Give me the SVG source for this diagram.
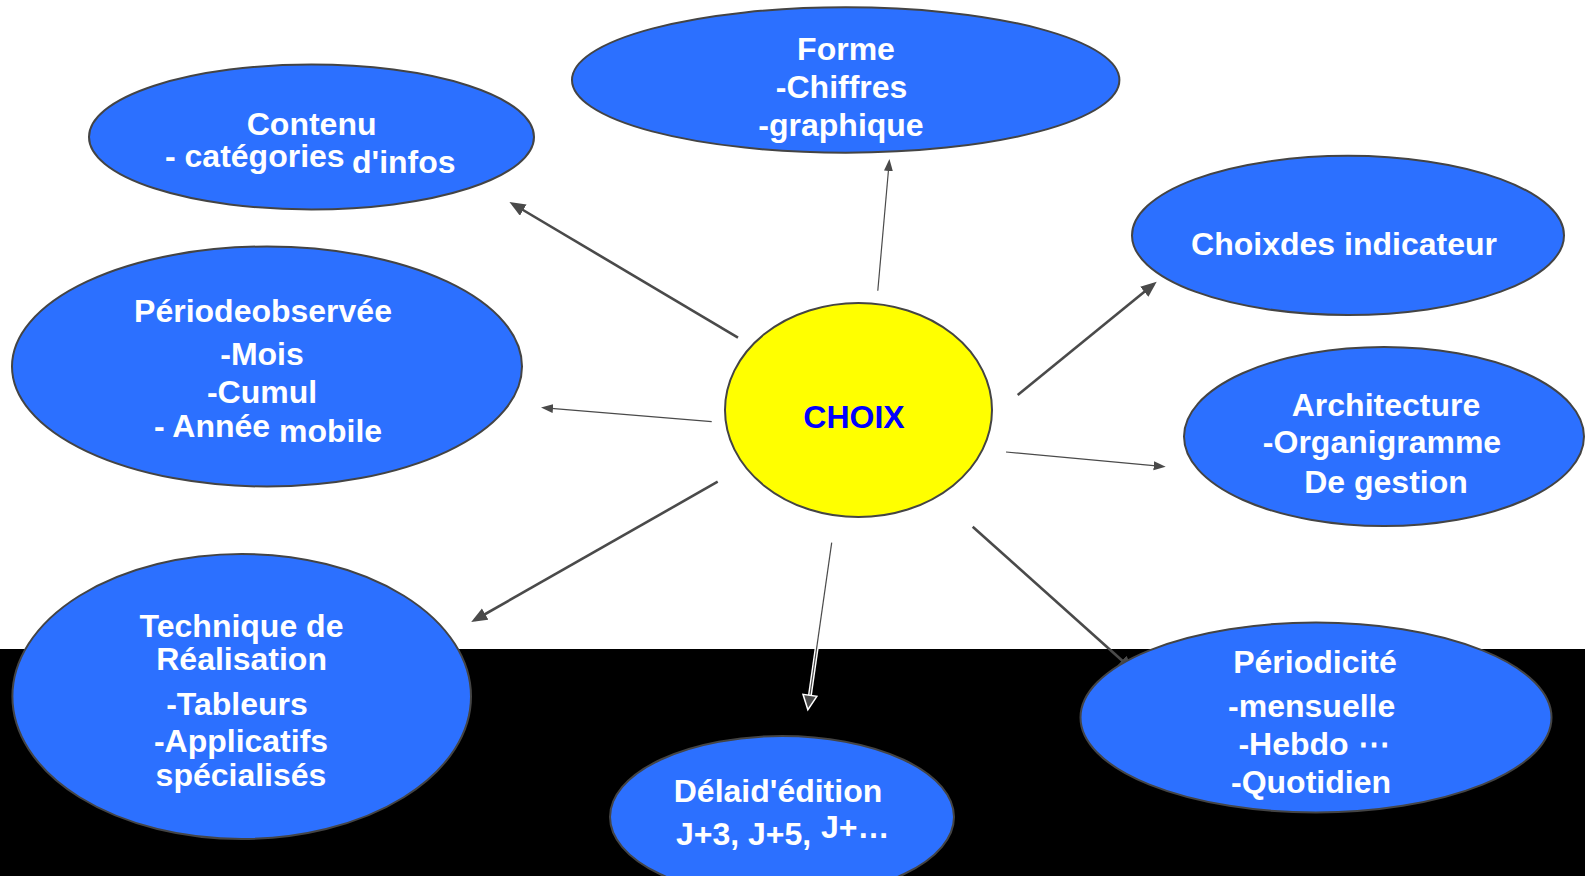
<svg xmlns="http://www.w3.org/2000/svg" width="1585" height="876" viewBox="0 0 1585 876">
<style>
.node{fill:#2c70ff;stroke:#444;stroke-width:2}
.t{font-family:"Liberation Sans",Arial,sans-serif;font-weight:bold;font-size:32px;fill:#fff}
.m{text-anchor:middle}
.thick{stroke:#4a4a4a;stroke-width:2.6;fill:none}
.thin{stroke:#4a4a4a;stroke-width:1.2;fill:none}
</style>
<defs>
<marker id="ak" markerUnits="userSpaceOnUse" markerWidth="18" markerHeight="14" refX="12" refY="6.5" orient="auto"><path d="M0,0 L16,6.5 L0,13 z" fill="#4a4a4a"/></marker>
<marker id="an" markerUnits="userSpaceOnUse" markerWidth="14" markerHeight="11" refX="8" refY="4.5" orient="auto"><path d="M0,0 L12,4.5 L0,9 z" fill="#4a4a4a"/></marker>
<marker id="aw" markerUnits="userSpaceOnUse" markerWidth="22" markerHeight="20" refX="13" refY="8.5" orient="auto"><path d="M1.5,1.5 L16,8.5 L1.5,15.5 z" fill="#4a4a4a" stroke="#fff" stroke-width="1.5"/></marker>
</defs>
<rect x="0" y="0" width="1585" height="876" fill="#fff"/>
<rect x="0" y="649" width="1585" height="227" fill="#000"/>
<g id="connectors">
<line class="thick" x1="738" y1="337.6" x2="512.9" y2="204" marker-end="url(#ak)"/>
<line class="thin" x1="877.8" y1="290.7" x2="889.1" y2="163" marker-end="url(#an)"/>
<line class="thick" x1="1017.7" y1="395" x2="1153.6" y2="284.2" marker-end="url(#ak)"/>
<line class="thin" x1="711.7" y1="421.7" x2="545" y2="407.9" marker-end="url(#an)"/>
<line class="thin" x1="1006" y1="452" x2="1161.7" y2="466.4" marker-end="url(#an)"/>
<line class="thick" x1="717.7" y1="481.7" x2="474.7" y2="620" marker-end="url(#ak)"/>
<line stroke="#fff" stroke-width="4" x1="831.7" y1="542.7" x2="808.3" y2="706.7"/>
<line class="thin" x1="831.7" y1="542.7" x2="808.3" y2="706.7" marker-end="url(#aw)"/>
<line class="thick" x1="972.7" y1="526.7" x2="1131" y2="668.5" marker-end="url(#ak)"/>
</g>
<g id="contenu">
<ellipse class="node" cx="311.5" cy="137" rx="222.5" ry="72.5"/>
<text class="t m" x="311.6" y="135">Contenu</text>
<text class="t" x="165" y="166.7">- catégories</text>
<text class="t" x="352" y="173.3">d'infos</text>
</g>
<g id="forme">
<ellipse class="node" cx="845.7" cy="80" rx="273.7" ry="72.7"/>
<text class="t m" x="846" y="60">Forme</text>
<text class="t m" x="841.6" y="97.5">-Chiffres</text>
<text class="t m" x="841" y="136">-graphique</text>
</g>
<g id="indicateur">
<ellipse class="node" cx="1348" cy="235.4" rx="216" ry="79.6"/>
<text class="t m" x="1344" y="254.5">Choixdes indicateur</text>
</g>
<g id="periode">
<ellipse class="node" cx="267" cy="366.5" rx="255" ry="120"/>
<text class="t m" x="263" y="321.7">Périodeobservée</text>
<text class="t m" x="262" y="365">-Mois</text>
<text class="t m" x="262" y="403">-Cumul</text>
<text class="t" x="154" y="436.7">- Année</text>
<text class="t" x="279" y="441.7">mobile</text>
</g>
<g id="choix">
<ellipse cx="858.5" cy="410" rx="133.5" ry="107" fill="#ffff00" stroke="#444" stroke-width="2"/>
<text class="t m" x="854" y="427.7" style="fill:#0000ff">CHOIX</text>
</g>
<g id="architecture">
<ellipse class="node" cx="1384" cy="436.5" rx="200" ry="89.5"/>
<text class="t m" x="1386" y="416">Architecture</text>
<text class="t m" x="1382" y="453.3">-Organigramme</text>
<text class="t m" x="1386" y="492.7">De gestion</text>
</g>
<g id="technique">
<ellipse class="node" cx="241.7" cy="696.5" rx="229.3" ry="142.5"/>
<text class="t m" x="241.5" y="637.3">Technique de</text>
<text class="t m" x="241.6" y="670">Réalisation</text>
<text class="t m" x="237" y="715">-Tableurs</text>
<text class="t m" x="241" y="752">-Applicatifs</text>
<text class="t m" x="241" y="785.5">spécialisés</text>
</g>
<g id="delai">
<ellipse class="node" cx="782" cy="817" rx="172" ry="81"/>
<text class="t m" x="778" y="801.7">Délaid'édition</text>
<text class="t" x="676" y="845">J+3, J+5,</text>
<text class="t" x="821" y="838">J+…</text>
</g>
<g id="periodicite">
<ellipse class="node" cx="1316" cy="717.5" rx="235.5" ry="95"/>
<text class="t m" x="1315" y="672.7">Périodicité</text>
<text class="t m" x="1311.7" y="716.7">-mensuelle</text>
<text class="t m" x="1314" y="755">-Hebdo ⋯</text>
<text class="t m" x="1311" y="793">-Quotidien</text>
</g>
</svg>
